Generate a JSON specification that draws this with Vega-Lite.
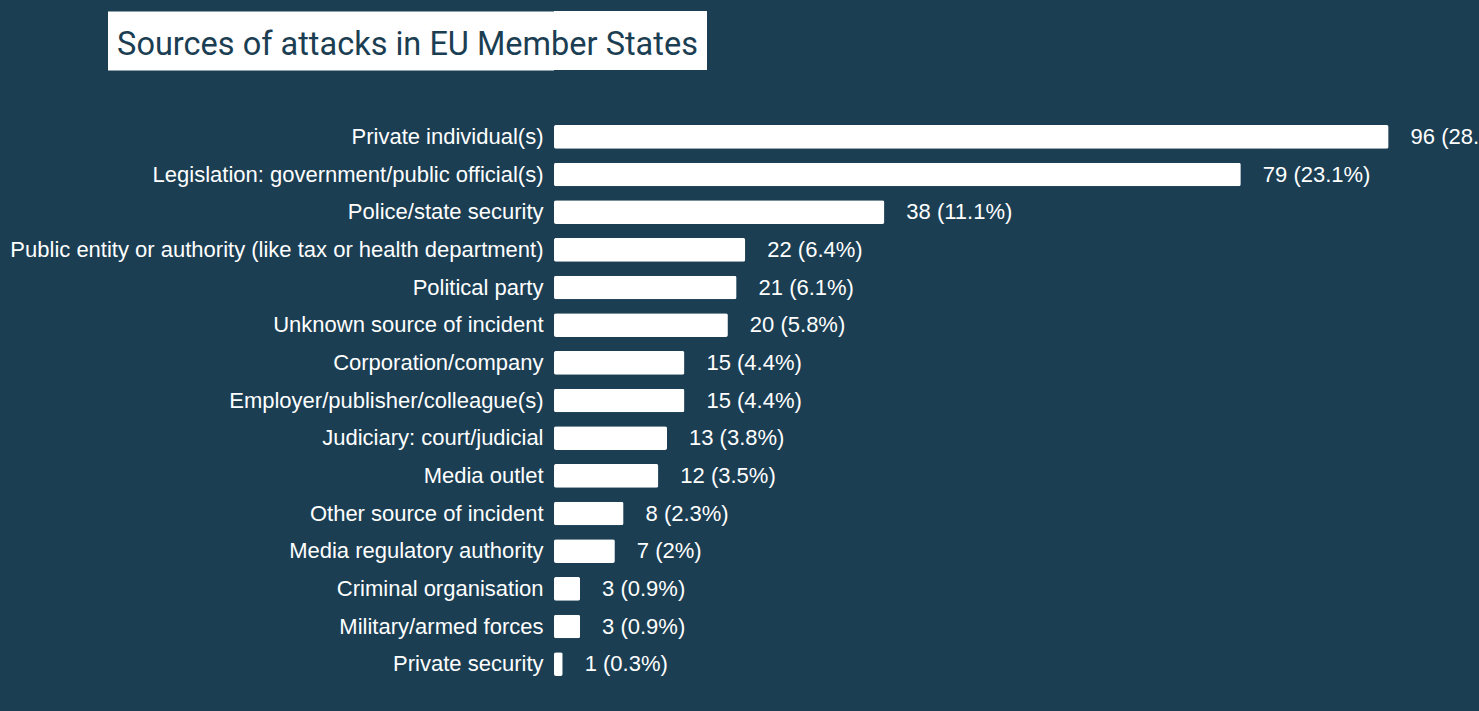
{
  "$schema": "https://vega.github.io/schema/vega-lite/v6.json",
  "background": "#1b3e53",
  "padding": {"left": 9, "top": 11, "right": 0, "bottom": 30},
  "spacing": 47,
  "config": {"view": {"stroke": null}},
  "vconcat": [
    {
      "width": 153,
      "height": 59,
      "view": {"fill": "white", "stroke": null},
      "title": {"text": "Sources of attacks in EU Member States", "font": "Roboto", "fontSize": 32.5, "fontWeight": "normal", "color": "#1b3e53", "anchor": "middle", "frame": "bounds", "baseline": "middle", "offset": -66, "dx": 14.75},
      "data": {"values": [{"t": "Sources of attacks in EU Member States"}]},
      "mark": {"type": "text", "opacity": 0},
      "encoding": {
        "text": {"value": ""},
        "y": {"field": "t", "type": "nominal", "axis": {"labels": false, "domain": false, "ticks": true, "tickSize": 446, "tickWidth": 59, "tickColor": "#ffffff", "tickCap": "butt", "tickOffset": 0, "translate": 0, "title": null}}
      }
    },
    {
      "width": 925,
      "height": 565,
      "data": {"values": [
        {"source": "Private individual(s)", "count": 96, "label": "96 (28.1%)"},
        {"source": "Legislation: government/public official(s)", "count": 79, "label": "79 (23.1%)"},
        {"source": "Police/state security", "count": 38, "label": "38 (11.1%)"},
        {"source": "Public entity or authority (like tax or health department)", "count": 22, "label": "22 (6.4%)"},
        {"source": "Political party", "count": 21, "label": "21 (6.1%)"},
        {"source": "Unknown source of incident", "count": 20, "label": "20 (5.8%)"},
        {"source": "Corporation/company", "count": 15, "label": "15 (4.4%)"},
        {"source": "Employer/publisher/colleague(s)", "count": 15, "label": "15 (4.4%)"},
        {"source": "Judiciary: court/judicial", "count": 13, "label": "13 (3.8%)"},
        {"source": "Media outlet", "count": 12, "label": "12 (3.5%)"},
        {"source": "Other source of incident", "count": 8, "label": "8 (2.3%)"},
        {"source": "Media regulatory authority", "count": 7, "label": "7 (2%)"},
        {"source": "Criminal organisation", "count": 3, "label": "3 (0.9%)"},
        {"source": "Military/armed forces", "count": 3, "label": "3 (0.9%)"},
        {"source": "Private security", "count": 1, "label": "1 (0.3%)"}
      ]},
      "encoding": {
        "y": {
          "field": "source", "type": "nominal", "sort": null,
          "scale": {"paddingInner": 0.37, "paddingOuter": 0.185},
          "axis": {"labelFont": "Liberation Sans", "labelFontSize": 22, "labelColor": "#ffffff", "labelPadding": 11, "ticks": false, "domain": false, "title": null, "labelLimit": 0, "minExtent": 545, "maxExtent": 545}
        },
        "x": {"field": "count", "type": "quantitative", "scale": {"domain": [0, 106.4], "nice": false, "zero": true}, "axis": null}
      },
      "layer": [
        {"mark": {"type": "bar", "color": "#ffffff", "cornerRadius": 2}},
        {"mark": {"type": "text", "align": "left", "baseline": "middle", "dx": 22, "font": "Liberation Sans", "fontSize": 22, "color": "#ffffff", "clip": true},
         "encoding": {"text": {"field": "label"}}}
      ]
    }
  ]
}
